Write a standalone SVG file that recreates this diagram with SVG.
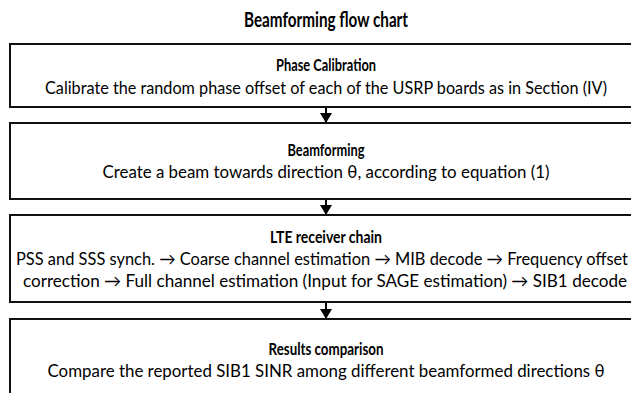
<svg xmlns="http://www.w3.org/2000/svg" width="631" height="393" viewBox="0 0 631 393">
<defs>
<style>
.box{fill:#fff;stroke:#111;stroke-width:2}
.t{font-family:Lato,"Open Sans","Liberation Sans",sans-serif;font-size:17px;fill:#000;text-anchor:middle}
.b{font-weight:bold}
.ttl{font-family:Lato,"Open Sans","Liberation Sans",sans-serif;font-size:20px;font-weight:bold;fill:#000;text-anchor:middle}
.conn{stroke:#000;stroke-width:2;fill:none}
</style>
<marker id="ah" markerWidth="10" markerHeight="12" refX="9" refY="6" orient="auto" markerUnits="userSpaceOnUse" viewBox="0 0 10 12">
<path d="M0,0 L10,6 L0,12 Z" fill="#000"/>
</marker>
</defs>
<rect width="631" height="393" fill="#fff"/>
<text class="ttl" x="326" y="27" textLength="164" lengthAdjust="spacingAndGlyphs">Beamforming flow chart</text>
<g id="n1">
<rect class="box" x="10" y="44" width="632" height="63"/>
<text class="t b" x="326" y="71" textLength="100" lengthAdjust="spacingAndGlyphs">Phase Calibration</text>
<text class="t" x="326" y="94" textLength="562" lengthAdjust="spacingAndGlyphs">Calibrate the random phase offset of each of the USRP boards as in Section (IV)</text>
</g>
<g id="n2">
<rect class="box" x="10" y="123" width="632" height="76"/>
<text class="t b" x="326" y="156" textLength="77" lengthAdjust="spacingAndGlyphs">Beamforming</text>
<text class="t" x="326" y="178" textLength="447" lengthAdjust="spacingAndGlyphs">Create a beam towards direction θ, according to equation (1)</text>
</g>
<g id="n3">
<rect class="box" x="10" y="215" width="632" height="87"/>
<text class="t b" x="326" y="243" textLength="112" lengthAdjust="spacingAndGlyphs">LTE receiver chain</text>
<text class="t" x="322" y="265" textLength="612" lengthAdjust="spacingAndGlyphs">PSS and SSS synch. → Coarse channel estimation → MIB decode → Frequency offset</text>
<text class="t" x="325" y="287" textLength="604" lengthAdjust="spacingAndGlyphs">correction → Full channel estimation (Input for SAGE estimation) → SIB1 decode</text>
</g>
<g id="n4">
<rect class="box" x="10" y="319" width="632" height="90"/>
<text class="t b" x="326" y="355" textLength="115" lengthAdjust="spacingAndGlyphs">Results comparison</text>
<text class="t" x="326" y="377" textLength="557" lengthAdjust="spacingAndGlyphs">Compare the reported SIB1 SINR among different beamformed directions θ</text>
</g>
<g id="connectors">
<line class="conn" x1="326" y1="108" x2="326" y2="122" marker-end="url(#ah)"/>
<line class="conn" x1="326" y1="200" x2="326" y2="214" marker-end="url(#ah)"/>
<line class="conn" x1="326" y1="303" x2="326" y2="318" marker-end="url(#ah)"/>
</g>
</svg>
